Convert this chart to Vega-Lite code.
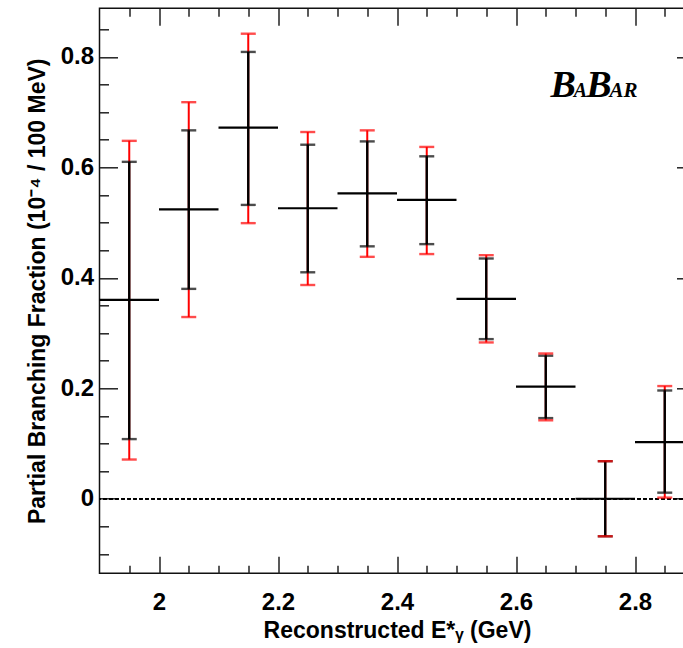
{
  "$schema": "https://vega.github.io/schema/vega-lite/v6.json",
  "width": 595,
  "height": 565,
  "autosize": {"type": "none"},
  "padding": {"left": 99.5, "top": 8.3, "right": -11.5, "bottom": 74.7},
  "background": "white",
  "config": {
    "view": {"stroke": "#111", "strokeWidth": 1.5},
    "axis": {"grid": false, "domain": false, "tickColor": "#222", "tickWidth": 1.5, "labelColor": "#000", "titleColor": "#000", "labelFont": "Liberation Sans", "titleFont": "Liberation Sans", "labelFontWeight": "bold", "titleFontWeight": "bold", "labelFontSize": 24, "titleFontSize": 23}
  },
  "datasets": {
    "pts": [
      {"e": 1.95, "bf": 0.360, "stat_lo": 0.108, "stat_hi": 0.610, "tot_lo": 0.071, "tot_hi": 0.648, "e_lo": 1.9, "e_hi": 2.0},
      {"e": 2.05, "bf": 0.524, "stat_lo": 0.380, "stat_hi": 0.667, "tot_lo": 0.329, "tot_hi": 0.718, "e_lo": 2.0, "e_hi": 2.1},
      {"e": 2.15, "bf": 0.672, "stat_lo": 0.532, "stat_hi": 0.809, "tot_lo": 0.499, "tot_hi": 0.842, "e_lo": 2.1, "e_hi": 2.2},
      {"e": 2.25, "bf": 0.526, "stat_lo": 0.410, "stat_hi": 0.641, "tot_lo": 0.387, "tot_hi": 0.664, "e_lo": 2.2, "e_hi": 2.3},
      {"e": 2.35, "bf": 0.553, "stat_lo": 0.457, "stat_hi": 0.647, "tot_lo": 0.438, "tot_hi": 0.667, "e_lo": 2.3, "e_hi": 2.4},
      {"e": 2.45, "bf": 0.541, "stat_lo": 0.461, "stat_hi": 0.620, "tot_lo": 0.443, "tot_hi": 0.637, "e_lo": 2.4, "e_hi": 2.5},
      {"e": 2.55, "bf": 0.362, "stat_lo": 0.289, "stat_hi": 0.435, "tot_lo": 0.283, "tot_hi": 0.441, "e_lo": 2.5, "e_hi": 2.6},
      {"e": 2.65, "bf": 0.203, "stat_lo": 0.146, "stat_hi": 0.259, "tot_lo": 0.142, "tot_hi": 0.263, "e_lo": 2.6, "e_hi": 2.7},
      {"e": 2.75, "bf": 0.000, "stat_lo": -0.068, "stat_hi": 0.068, "tot_lo": -0.068, "tot_hi": 0.068, "e_lo": 2.7, "e_hi": 2.8},
      {"e": 2.85, "bf": 0.1025, "stat_lo": 0.011, "stat_hi": 0.196, "tot_lo": 0.002, "tot_hi": 0.204, "e_lo": 2.8, "e_hi": 2.9}
    ]
  },
  "data": {"name": "pts"},
  "resolve": {"axis": {"x": "independent", "y": "independent"}},
  "layer": [
    {
      "mark": {"type": "rule", "color": "#000", "strokeWidth": 1.6, "strokeDash": [3, 3]},
      "encoding": {
        "y": {"datum": 0, "type": "quantitative", "scale": {"domain": [-0.135, 0.888], "nice": false, "zero": false}, "axis": null}
      }
    },
    {
      "mark": {"type": "rule", "color": "#ff0000", "strokeWidth": 2.0},
      "encoding": {
        "x": {"field": "e", "type": "quantitative", "scale": {"domain": [1.9, 2.9], "nice": false, "zero": false},
              "axis": {"orient": "bottom", "values": [2, 2.2, 2.4, 2.6, 2.8], "format": ".1~f", "tickSize": -17, "labelPadding": 34, "title": "Reconstructed E*ᵧ (GeV)", "titlePadding": 5}},
        "y": {"field": "tot_lo", "type": "quantitative", "scale": {"domain": [-0.135, 0.888], "nice": false, "zero": false},
              "axis": {"orient": "left", "values": [0, 0.2, 0.4, 0.6, 0.8], "format": ".1~f", "tickSize": -18, "labelPadding": 24, "title": "Partial Branching Fraction (10⁻⁴ / 100 MeV)", "titlePadding": 11}},
        "y2": {"field": "tot_hi"}
      }
    },
    {
      "mark": {"type": "rule", "color": "#000", "strokeWidth": 2.4},
      "encoding": {
        "x": {"field": "e", "type": "quantitative", "scale": {"domain": [1.9, 2.9], "nice": false, "zero": false},
              "axis": {"orient": "bottom", "values": [1.95, 2.05, 2.1, 2.15, 2.25, 2.3, 2.35, 2.45, 2.5, 2.55, 2.65, 2.7, 2.75, 2.85], "tickSize": -8, "labels": false, "title": null}},
        "y": {"field": "stat_lo", "type": "quantitative", "scale": {"domain": [-0.135, 0.888], "nice": false, "zero": false},
              "axis": {"orient": "left", "values": [-0.1, -0.05, 0.05, 0.1, 0.15, 0.25, 0.3, 0.35, 0.45, 0.5, 0.55, 0.65, 0.7, 0.75, 0.85], "tickSize": -9, "labels": false, "title": null}},
        "y2": {"field": "stat_hi"}
      }
    },
    {
      "mark": {"type": "tick", "orient": "horizontal", "color": "#000", "size": 15, "thickness": 2.4},
      "encoding": {
        "x": {"field": "e", "type": "quantitative", "scale": {"domain": [1.9, 2.9], "nice": false, "zero": false},
              "axis": {"orient": "top", "values": [2, 2.2, 2.4, 2.6, 2.8], "tickSize": -17, "labels": false, "title": null}},
        "y": {"field": "stat_lo", "type": "quantitative", "scale": {"domain": [-0.135, 0.888], "nice": false, "zero": false},
              "axis": {"orient": "right", "values": [0, 0.2, 0.4, 0.6, 0.8], "tickSize": -18, "labels": false, "title": null}}
      }
    },
    {
      "mark": {"type": "tick", "orient": "horizontal", "color": "#000", "size": 15, "thickness": 2.4},
      "encoding": {
        "x": {"field": "e", "type": "quantitative", "scale": {"domain": [1.9, 2.9], "nice": false, "zero": false},
              "axis": {"orient": "top", "values": [1.95, 2.05, 2.1, 2.15, 2.25, 2.3, 2.35, 2.45, 2.5, 2.55, 2.65, 2.7, 2.75, 2.85], "tickSize": -8, "labels": false, "title": null}},
        "y": {"field": "stat_hi", "type": "quantitative", "scale": {"domain": [-0.135, 0.888], "nice": false, "zero": false},
              "axis": {"orient": "right", "values": [-0.1, -0.05, 0.05, 0.1, 0.15, 0.25, 0.3, 0.35, 0.45, 0.5, 0.55, 0.65, 0.7, 0.75, 0.85], "tickSize": -9, "labels": false, "title": null}}
      }
    },
    {
      "mark": {"type": "tick", "orient": "horizontal", "color": "#ff0000", "size": 15, "thickness": 2.4},
      "encoding": {
        "x": {"field": "e", "type": "quantitative", "scale": {"domain": [1.9, 2.9], "nice": false, "zero": false}, "axis": null},
        "y": {"field": "tot_lo", "type": "quantitative", "scale": {"domain": [-0.135, 0.888], "nice": false, "zero": false}, "axis": null}
      }
    },
    {
      "mark": {"type": "tick", "orient": "horizontal", "color": "#ff0000", "size": 15, "thickness": 2.4},
      "encoding": {
        "x": {"field": "e", "type": "quantitative", "scale": {"domain": [1.9, 2.9], "nice": false, "zero": false}, "axis": null},
        "y": {"field": "tot_hi", "type": "quantitative", "scale": {"domain": [-0.135, 0.888], "nice": false, "zero": false}, "axis": null}
      }
    },
    {
      "mark": {"type": "rule", "color": "#000", "strokeWidth": 2.2},
      "encoding": {
        "x": {"field": "e_lo", "type": "quantitative", "scale": {"domain": [1.9, 2.9], "nice": false, "zero": false}, "axis": null},
        "x2": {"field": "e_hi"},
        "y": {"field": "bf", "type": "quantitative", "scale": {"domain": [-0.135, 0.888], "nice": false, "zero": false}, "axis": null}
      }
    },
    {
      "data": {"values": [{"t": "B"}]},
      "mark": {"type": "text", "align": "left", "baseline": "alphabetic", "font": "Liberation Serif", "fontStyle": "italic", "fontWeight": "bold", "fontSize": 38, "color": "#000"},
      "encoding": {
        "text": {"field": "t"},
        "x": {"datum": 2.658, "type": "quantitative", "scale": {"domain": [1.9, 2.9], "nice": false, "zero": false}, "axis": null},
        "y": {"datum": 0.727, "type": "quantitative", "scale": {"domain": [-0.135, 0.888], "nice": false, "zero": false}, "axis": null}
      }
    },
    {
      "data": {"values": [{"t": "A"}]},
      "mark": {"type": "text", "align": "left", "baseline": "alphabetic", "font": "Liberation Serif", "fontStyle": "italic", "fontWeight": "bold", "fontSize": 20, "color": "#000"},
      "encoding": {
        "text": {"field": "t"},
        "x": {"datum": 2.697, "type": "quantitative", "scale": {"domain": [1.9, 2.9], "nice": false, "zero": false}, "axis": null},
        "y": {"datum": 0.727, "type": "quantitative", "scale": {"domain": [-0.135, 0.888], "nice": false, "zero": false}, "axis": null}
      }
    },
    {
      "data": {"values": [{"t": "B"}]},
      "mark": {"type": "text", "align": "left", "baseline": "alphabetic", "font": "Liberation Serif", "fontStyle": "italic", "fontWeight": "bold", "fontSize": 38, "color": "#000"},
      "encoding": {
        "text": {"field": "t"},
        "x": {"datum": 2.718, "type": "quantitative", "scale": {"domain": [1.9, 2.9], "nice": false, "zero": false}, "axis": null},
        "y": {"datum": 0.727, "type": "quantitative", "scale": {"domain": [-0.135, 0.888], "nice": false, "zero": false}, "axis": null}
      }
    },
    {
      "data": {"values": [{"t": "AR"}]},
      "mark": {"type": "text", "align": "left", "baseline": "alphabetic", "font": "Liberation Serif", "fontStyle": "italic", "fontWeight": "bold", "fontSize": 21, "color": "#000"},
      "encoding": {
        "text": {"field": "t"},
        "x": {"datum": 2.757, "type": "quantitative", "scale": {"domain": [1.9, 2.9], "nice": false, "zero": false}, "axis": null},
        "y": {"datum": 0.727, "type": "quantitative", "scale": {"domain": [-0.135, 0.888], "nice": false, "zero": false}, "axis": null}
      }
    }
  ]
}
